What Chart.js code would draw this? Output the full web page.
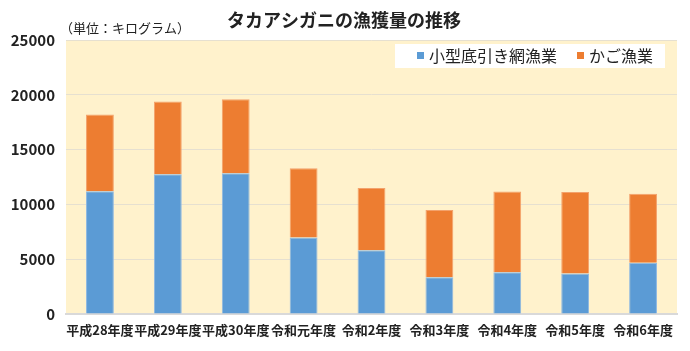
<!DOCTYPE html>
<html>
<head>
<meta charset="utf-8">
<script src="https://cdn.jsdelivr.net/npm/chart.js@4"></script>
<style>
  html, body { margin: 0; padding: 0; background: #fff; }
  #wrap { width: 690px; height: 351px; }
</style>
</head>
<body>
<div id="wrap"><canvas id="myChart" width="690" height="351"></canvas></div>
<script>
const FONT = '"Noto Sans CJK JP", "Noto Sans", sans-serif';

const years = ['平成28年度', '平成29年度', '平成30年度', '令和元年度', '令和2年度', '令和3年度', '令和4年度', '令和5年度', '令和6年度'];
const trawl = [11200, 12750, 12850, 6970, 5820, 3360, 3820, 3700, 4670];
const trap = [7000, 6650, 6750, 6330, 5680, 6120, 7360, 7420, 6300];
const yTicks = [0, 5000, 10000, 15000, 20000, 25000];

const titleText = 'タカアシガニの漁獲量の推移';
const unitText = '（単位：キログラム）';

// plot background, title, unit label and the boxed legend
const decor = {
  id: 'decor',
  beforeDraw(chart) {
    const { ctx, chartArea: a } = chart;
    ctx.save();
    ctx.fillStyle = '#FFF2CC';
    ctx.fillRect(a.left, a.top, a.right - a.left, a.bottom - a.top);
    ctx.restore();
  },
  afterDraw(chart) {
    const { ctx } = chart;
    ctx.save();
    ctx.fillStyle = '#222';
    ctx.textBaseline = 'middle';
    ctx.font = 'bold 18px ' + FONT;
    ctx.textAlign = 'center';
    ctx.fillText(titleText, 344, 20);
    ctx.font = '13px ' + FONT;
    ctx.textAlign = 'left';
    ctx.fillText(unitText, 60, 28);

    // legend box
    ctx.fillStyle = '#fff';
    ctx.fillRect(395, 44, 270, 24);
    ctx.font = '16px ' + FONT;
    let x = 417;
    chart.data.datasets.forEach(ds => {
      ctx.fillStyle = ds.backgroundColor;
      ctx.fillRect(x, 52, 7, 7);
      ctx.fillStyle = '#222';
      ctx.fillText(ds.label, x + 12, 56);
      x += 12 + ctx.measureText(ds.label).width + 20;
    });
    ctx.restore();
  }
};

new Chart(document.getElementById('myChart').getContext('2d'), {
  type: 'bar',
  data: {
    labels: years,
    datasets: [
      { label: '小型底引き網漁業', data: trawl, backgroundColor: '#5B9BD5', borderColor: '#8DB8E2', borderWidth: 1 },
      { label: 'かご漁業', data: trap, backgroundColor: '#ED7D31', borderColor: '#F3A26C', borderWidth: 1 }
    ]
  },
  options: {
    responsive: false,
    animation: false,
    layout: { padding: { top: 40, right: 13, left: 0, bottom: 0 } },
    plugins: { legend: { display: false }, title: { display: false }, tooltip: { enabled: false } },
    datasets: { bar: { barPercentage: 0.41, categoryPercentage: 1 } },
    scales: {
      x: {
        stacked: true,
        grid: { display: false, drawTicks: false },
        border: { color: '#D9D9D9', width: 2 },
        ticks: { color: '#222', font: { family: FONT, size: 13, weight: 'bold' }, padding: 8, maxRotation: 0, autoSkip: false },
        afterFit(scale) { scale.height = 37; }
      },
      y: {
        stacked: true,
        min: 0,
        max: 25000,
        afterBuildTicks(scale) { scale.ticks = yTicks.map(v => ({ value: v })); },
        grid: { color: '#E6E0D0', drawTicks: false },
        border: { display: false },
        ticks: { color: '#222', font: { family: FONT, size: 15, weight: 'bold' }, padding: 11, callback: v => String(v) },
        afterFit(scale) { scale.width = 66; }
      }
    }
  },
  plugins: [decor]
});
</script>
</body>
</html>
